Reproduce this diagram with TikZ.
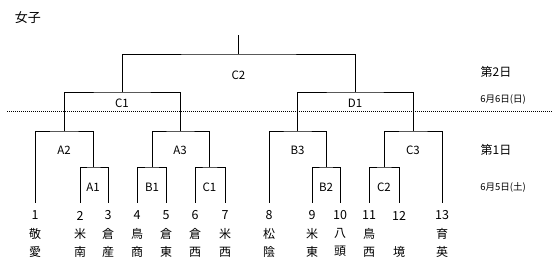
\documentclass[tikz,border=0pt]{standalone}
\usepackage{fontspec}
\newfontfamily\jpfont{Noto Sans CJK JP}
\usetikzlibrary{positioning}

\begin{document}
\begin{tikzpicture}[x=1pt, y=-1pt,
  line width=0.8pt,
  num/.style={font=\jpfont\fontsize{12.5}{14}\selectfont, inner sep=0pt, minimum height=25pt},
  team/.style={font=\jpfont\fontsize{12}{18}\selectfont, inner sep=0pt, align=center},
  match/.style={font=\jpfont\fontsize{11.5}{13}\selectfont, inner sep=0pt},
  day/.style={font=\jpfont\fontsize{12}{14}\selectfont, inner sep=0pt},
  date/.style={font=\jpfont\fontsize{9.5}{11}\selectfont, inner sep=0pt}
]
  \useasboundingbox (0,0) rectangle (552,270);

  \node[font=\jpfont\fontsize{13}{15}\selectfont, inner sep=0pt] (title) at (28,18) {女子};

  % teams
  \foreach \n/\x/\a/\b in {1/35/敬/愛, 2/80/米/南, 3/108/倉/産, 4/137/鳥/商,
      5/166/倉/東, 6/195/倉/西, 7/225/米/西, 8/269/松/陰, 9/312/米/東,
      10/340/八/頭, 11/369/鳥/西, 12/399/{\phantom{境}}/境, 13/442/育/英}{
    \node[num] (t\n) at (\x,215.5) {\n};
    \node[team, below=0pt of t\n] (n\n) {\a\\\b};
  }

  % day 1 matches
  \coordinate (a1) at (93,167);
  \coordinate (b1) at (152,167);
  \coordinate (c1) at (209.5,167);
  \coordinate (b2) at (326,167);
  \coordinate (c2) at (384,167);
  \coordinate (a2) at (64,131);
  \coordinate (a3) at (180,131);
  \coordinate (b3) at (297.5,131);
  \coordinate (c3) at (413,131);
  % day 2 matches
  \coordinate (fC1) at (122,92);
  \coordinate (fD1) at (355,92);
  \coordinate (fC2) at (238.5,54);
  \coordinate (top) at (238.5,35);

  \draw (t2.north) |- (a1) -| (t3.north);
  \draw (t4.north) |- (b1) -| (t5.north);
  \draw (t6.north) |- (c1) -| (t7.north);
  \draw (t9.north) |- (b2) -| (t10.north);
  \draw (t11.north) |- (c2) -| (t12.north);
  \draw (t1.north) |- (a2) -| (a1);
  \draw (b1) |- (a3) -| (c1);
  \draw (t8.north) |- (b3) -| (b2);
  \draw (c2) |- (c3) -| (t13.north);
  \draw (a2) |- (fC1) -| (a3);
  \draw (b3) |- (fD1) -| (c3);
  \draw (fC1) |- (fC2) -| (fD1);
  \draw (fC2) -- (top);

  % match labels
  \node[match] (lA1) at ([yshift=-20pt]a1) {A1};
  \node[match] (lB1) at ([yshift=-20pt]b1) {B1};
  \node[match] (lC1) at ([yshift=-20pt]c1) {C1};
  \node[match] (lB2) at ([yshift=-20pt]b2) {B2};
  \node[match] (lC2) at ([yshift=-20pt]c2) {C2};
  \node[match] (lA2) at ([yshift=-19pt]a2) {A2};
  \node[match] (lA3) at ([yshift=-19pt]a3) {A3};
  \node[match] (lB3) at ([yshift=-19pt]b3) {B3};
  \node[match] (lC3) at ([yshift=-19pt]c3) {C3};
  \node[match] (lfC1) at ([yshift=-11.5pt]fC1) {C1};
  \node[match] (lfD1) at ([yshift=-11.5pt]fD1) {D1};
  \node[match] (lfC2) at ([yshift=-21pt]fC2) {C2};

  % days
  \coordinate (dl) at (7,111);
  \coordinate (dr) at (552,111);
  \draw[line width=0.8pt, dash pattern=on 1pt off 1pt] (dl) -- (dr);
  \node[day] (day2) at (496,72) {第2日};
  \node[date] (date2) at (503,100) {6月6日(日)};
  \node[day] (day1) at (496,150) {第1日};
  \node[date] (date1) at (503,187) {6月5日(土)};
\end{tikzpicture}
\end{document}
